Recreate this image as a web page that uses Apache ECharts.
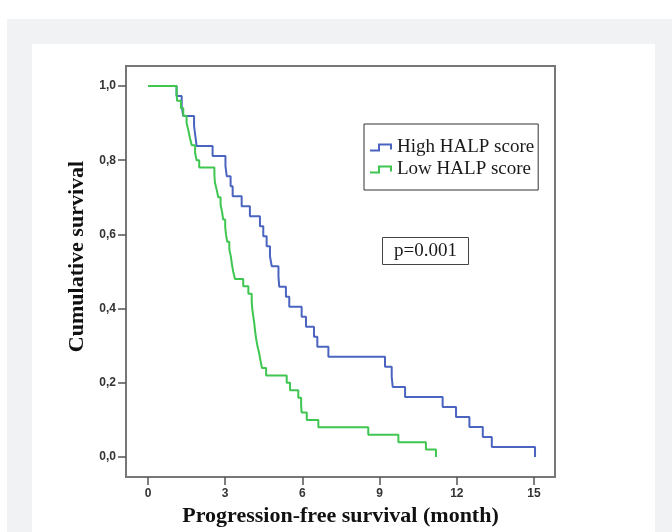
<!DOCTYPE html>
<html>
<head>
<meta charset="utf-8">
<title>PFS by HALP score</title>
<script src="https://cdn.jsdelivr.net/npm/echarts@6.0.0/dist/echarts.min.js"></script>
<style>
  html, body { margin: 0; padding: 0; background: #fff; }
  #wrap { position: relative; width: 672px; height: 532px; overflow: hidden; }
  .panel-gray { position: absolute; left: 7px; top: 19px; width: 680px; height: 540px; background: #f1f2f4; }
  .panel-white { position: absolute; left: 32px; top: 44px; width: 623px; height: 500px; background: #fff; }
  #main { position: absolute; left: 0; top: 0; width: 672px; height: 532px; }
</style>
</head>
<body>
<div id="wrap">
  <div class="panel-gray"></div>
  <div class="panel-white"></div>
  <div id="main"></div>
</div>
<script>
// months / cumulative survival
var highTime = [0, 1.11, 1.31, 1.37, 1.79, 1.84, 1.89, 2.51, 3.01, 3.06, 3.21, 3.29, 3.64, 3.96,
  4.35, 4.48, 4.61, 4.74, 4.81, 5.07, 5.10, 5.36, 5.49, 5.97, 6.14, 6.45, 6.58, 7.01,
  9.21, 9.47, 9.51, 9.99, 11.45, 11.97, 12.49, 13.01, 13.36, 15.04];
var highSurv = [1.0, 0.973, 0.946, 0.919, 0.892, 0.865, 0.838, 0.811, 0.784, 0.757, 0.730, 0.703, 0.676, 0.649,
  0.622, 0.595, 0.568, 0.541, 0.514, 0.486, 0.459, 0.432, 0.405, 0.378, 0.351, 0.324, 0.297, 0.270,
  0.243, 0.216, 0.189, 0.162, 0.135, 0.108, 0.081, 0.054, 0.027, 0.0];

var lowTime = [0, 1.11, 1.13, 1.28, 1.37, 1.50, 1.57, 1.63, 1.70, 1.83, 1.89, 1.99,
  2.58, 2.60, 2.67, 2.73, 2.82, 2.88, 2.92, 3.00, 3.03, 3.08, 3.16, 3.22, 3.26, 3.31, 3.38,
  3.70, 3.90, 4.03, 4.05, 4.09, 4.13, 4.16, 4.20, 4.25, 4.32, 4.37, 4.43, 4.59,
  5.39, 5.52, 5.84, 5.95, 5.97, 6.17, 6.62, 8.56, 9.73, 10.80, 11.19];
var lowSurv = [1.0, 0.98, 0.96, 0.94, 0.92, 0.90, 0.88, 0.86, 0.84, 0.82, 0.80, 0.78,
  0.76, 0.74, 0.72, 0.70, 0.68, 0.66, 0.64, 0.62, 0.60, 0.58, 0.56, 0.54, 0.52, 0.50, 0.48,
  0.46, 0.44, 0.42, 0.40, 0.38, 0.36, 0.34, 0.32, 0.30, 0.28, 0.26, 0.24, 0.22,
  0.20, 0.18, 0.16, 0.14, 0.12, 0.10, 0.08, 0.06, 0.04, 0.02, 0.0];

var xTicks = [0, 3, 6, 9, 12, 15];
var yTicks = [0, 0.2, 0.4, 0.6, 0.8, 1.0];
var seriesNames = ["High HALP score", "Low HALP score"];
var pText = "p=0.001";

function pairs(t, s) {
  return t.map(function (v, i) { return [v, s[i]]; });
}

var chartDom = document.getElementById("main");
var myChart = echarts.init(chartDom, null, { renderer: "canvas" });
var option;

var serif = "'Liberation Serif', 'Times New Roman', serif";
var sans = "'Liberation Sans', Arial, sans-serif";
// step glyph used in the legend
var stepIcon = "path://M0,6 L8,6 L8,0 L22,0 L22,6 L20,6 L20,2 L10,2 L10,8 L0,8 Z";

option = {
  animation: false,
  backgroundColor: "transparent",
  title: {
    text: pText,
    left: 382,
    top: 237,
    padding: [4, 12, 4, 12],
    borderColor: "#444",
    borderWidth: 1,
    textStyle: {
      fontFamily: serif,
      fontSize: 19,
      lineHeight: 20,
      fontWeight: "normal",
      color: "#1a1a1a",
    },
  },
  legend: {
    data: seriesNames,
    orient: "vertical",
    left: 364,
    top: 124,
    padding: [14, 4, 11, 6],
    itemGap: 3,
    itemWidth: 22,
    itemHeight: 8,
    icon: stepIcon,
    borderColor: "#333",
    borderWidth: 1,
    itemStyle: { borderWidth: 0 },
    textStyle: {
      fontFamily: serif,
      fontSize: 19,
      lineHeight: 19,
      color: "#1a1a1a",
    },
  },
  grid: {
    left: 126,
    top: 66,
    width: 429,
    height: 411,
    show: true,
    borderColor: "#777",
    borderWidth: 2,
    backgroundColor: "transparent",
  },
  xAxis: {
    type: "value",
    min: -0.855,
    max: 15.816,
    name: "Progression-free survival (month)",
    nameLocation: "middle",
    nameGap: 27,
    nameTextStyle: {
      fontFamily: serif,
      fontSize: 22,
      fontWeight: "bold",
      color: "#111",
    },
    axisLine: { show: false, onZero: false },
    splitLine: { show: false },
    axisTick: {
      show: true,
      inside: false,
      length: 8,
      customValues: xTicks,
      lineStyle: { color: "#555", width: 1.5 },
    },
    axisLabel: {
      customValues: xTicks,
      margin: 11,
      fontFamily: sans,
      fontSize: 12,
      fontWeight: "bold",
      color: "#333",
    },
  },
  yAxis: {
    type: "value",
    min: -0.0539,
    max: 1.0539,
    name: "Cumulative survival",
    nameLocation: "middle",
    nameGap: 34,
    nameTextStyle: {
      fontFamily: serif,
      fontSize: 22,
      fontWeight: "bold",
      color: "#111",
      padding: [0, 0, 0, 30],
    },
    axisLine: { show: false, onZero: false },
    splitLine: { show: false },
    axisTick: {
      show: true,
      inside: false,
      length: 8,
      customValues: yTicks,
      lineStyle: { color: "#555", width: 1.5 },
    },
    axisLabel: {
      customValues: yTicks,
      margin: 10,
      fontFamily: sans,
      fontSize: 12,
      fontWeight: "bold",
      color: "#333",
      formatter: function (v) {
        return v.toFixed(1).replace(".", ",");
      },
    },
  },
  series: [
    {
      name: seriesNames[0],
      type: "line",
      step: "end",
      symbol: "none",
      color: "#4a64c0",
      lineStyle: { width: 2, color: "#4a64c0" },
      data: pairs(highTime, highSurv),
      z: 2,
    },
    {
      name: seriesNames[1],
      type: "line",
      step: "end",
      symbol: "none",
      color: "#3fc651",
      lineStyle: { width: 2, color: "#3fc651" },
      data: pairs(lowTime, lowSurv),
      z: 3,
    },
  ],
};

option && myChart.setOption(option);
</script>
</body>
</html>
